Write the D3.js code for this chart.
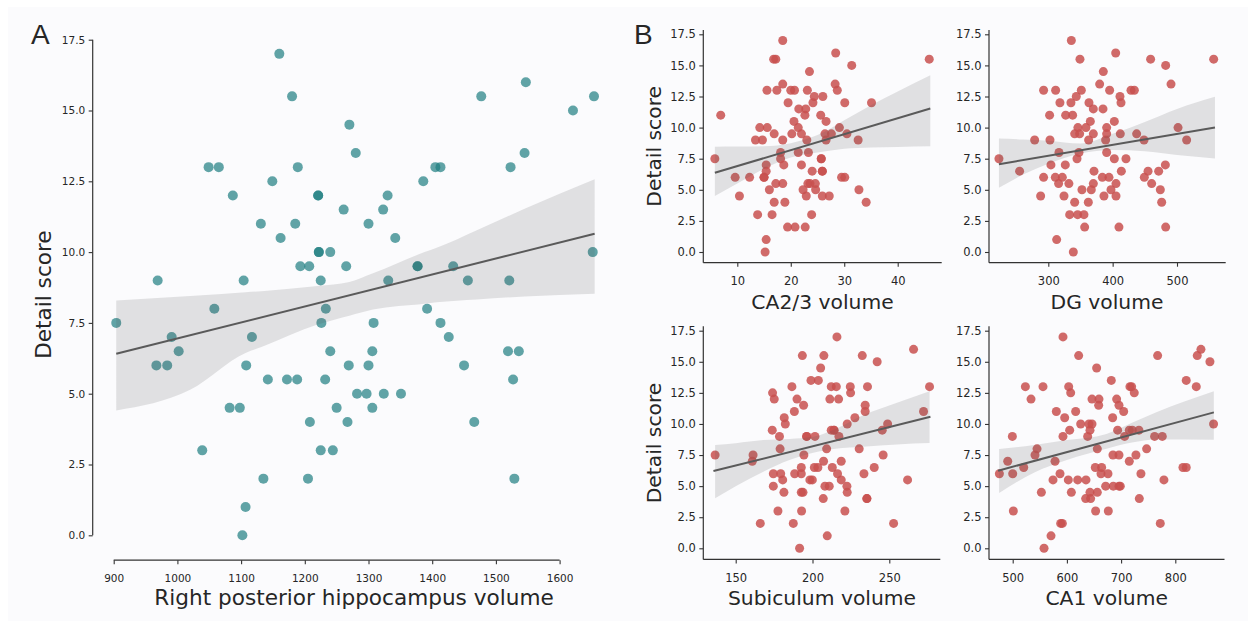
<!DOCTYPE html>
<html>
<head>
<meta charset="utf-8">
<script src="https://cdn.jsdelivr.net/npm/d3@7"></script>
<style>
  html, body { margin: 0; padding: 0; background: #ffffff; }
  svg { display: block; }
  text { font-family: "DejaVu Sans", sans-serif; fill: #262626; }
</style>
</head>
<body>
<svg id="chart" width="1248" height="621"></svg>
<script>
// ---------------- DATA ----------------
const yTicks = [0, 2.5, 5, 7.5, 10, 12.5, 15, 17.5];

// Panel A: right posterior hippocampus volume vs detail score
const hippoTicks = [900, 1000, 1100, 1200, 1300, 1400, 1500, 1600];
const hippoPoints = [
  [1160,17],[1180,15.5],[1547,16],[1477,15.5],[1654,15.5],[1621,15],[1270,14.5],[1280,13.5],[1545,13.5],
  [1049,13],[1065,13],[1189,13],[1405,13],[1413,13],[1523,13],[1149,12.5],[1386,12.5],[1087,12],[1221,12],
  [1221,12],[1330,12],[1261,11.5],[1323,11.5],[1131,11],[1185,11],[1300,11],[1162,10.5],[1342,10.5],[1222,10],
  [1222,10],[1240,10],[1652,10],[1193,9.5],[1207,9.5],[1265,9.5],[1377,9.5],[1377,9.5],[1433,9.5],[969,9],
  [1104,9],[1225,9],[1331,9],[1456,9],[1521,9],[1058,8],[1233,8],[1392,8],[904,7.5],[1226,7.5],[1308,7.5],
  [1413,7.5],[991,7],[1117,7],[1426,7],[1002,6.5],[1240,6.5],[1306,6.5],[1519,6.5],[1536,6.5],[967,6],[984,6],
  [1108,6],[1269,6],[1300,6],[1450,6],[1142,5.5],[1172,5.5],[1188,5.5],[1232,5.5],[1527,5.5],[1282,5],[1297,5],
  [1324,5],[1351,5],[1082,4.5],[1098,4.5],[1250,4.5],[1306,4.5],[1208,4],[1267,4],[1466,4],[1039,3],[1225,3],
  [1244,3],[1135,2],[1205,2],[1529,2],[1107,1],[1102,0]
];
const hippoFit = [[904, 6.41], [1655, 10.65]];
const hippoBand = [ // [x, lower, upper]
  [904,4.41,8.29],[1020,5.14,8.45],[1107,6.44,8.58],[1132,6.65,8.62],[1220,7.44,8.8],[1270,7.75,8.94],
  [1307,7.97,9.25],[1388,8.18,10.0],[1407,8.23,10.15],[1470,8.33,10.77],[1545,8.43,11.53],[1655,8.53,12.57]
];

// Panel B1: CA2/3
const ca23Ticks = [10, 20, 30, 40];
const ca23Points = [
  [18.5,17],[16.8,15.5],[17.2,15.5],[28.4,16],[31.4,15],[45.9,15.5],[23.5,14.5],[18.5,13.5],[28.3,13.5],
  [15.55,13],[17.4,13],[20.0,13],[20.7,13],[23.1,13],[28.7,13],[19.5,12],[24.4,12.5],[24.15,12],[26.0,12.5],
  [30.1,12],[35.1,12],[21.5,11.5],[22.8,11.5],[22.65,11],[25.6,11],[6.9,11],[20.6,10.5],[26.6,10.5],[14.2,10],
  [15.6,10],[21.4,10],[29.1,10],[13.4,9],[14.7,9],[18.5,9],[23.0,9],[26.6,9],[32.6,9],[16.9,9.5],[20.2,9.5],
  [22.0,9.5],[26.4,9.5],[27.6,9.5],[30.5,9.5],[5.8,7.5],[18.1,8],[21.4,8],[23.3,8],[18.1,7.5],[25.7,7.5],
  [25.7,7.5],[15.4,7],[18.7,7],[22.0,7],[15.4,6.5],[24.0,6.5],[25.9,6.5],[25.9,6.5],[9.6,6],[12.3,6],[15.0,6],
  [15.0,6],[29.5,6],[30.1,6],[17.2,5.5],[18.5,5.5],[23.2,5.5],[23.6,5.5],[24.6,5.5],[16.0,5],[22.3,5],[24.65,5],
  [32.75,5],[10.4,4.5],[22.9,4.5],[25.9,4.5],[27.2,4.5],[16.9,4],[18.9,4],[34.1,4],[13.8,3],[16.5,3],[23.9,3],
  [19.4,2],[20.8,2],[22.7,2],[15.4,1],[15.2,0]
];
const ca23Fit = [[5.8, 6.37], [46.1, 11.53]];
const ca23Band = [
  [5.8,4.5,8.46],[10,5.5,8.48],[15,6.7,8.5],[20,7.6,8.75],[25,8.0,9.4],[30,8.3,10.6],[35,8.4,11.8],
  [40,8.45,12.9],[46.1,8.5,14.2]
];

// Panel B2: DG
const dgTicks = [300, 400, 500];
const dgPoints = [
  [335.8,17],[404.7,16],[349.2,15.5],[459,15.5],[557,15.5],[482.4,15],[385.5,14.5],[379.8,13.5],[490.7,13.5],
  [292.7,13],[311.4,13],[351.3,13],[395.3,13],[428.5,13],[433.7,13],[343.5,12.5],[411.4,12.5],[318.1,12],
  [335.2,12],[363.2,12],[413,12],[370,11.5],[385,11.5],[302,11],[327,11],[337.8,11],[365.3,10.5],[402.6,10.5],
  [346,10],[358.5,10],[390.7,10],[501.6,10],[341,9.5],[348.7,9.5],[370,9.5],[390.7,9.5],[411.9,9.5],[437.3,9.5],
  [278.8,9],[302.6,9],[362.7,9],[389.1,9],[448.7,9],[515,9],[316.6,8],[347.7,8],[390.7,8],[223.3,7.5],
  [344.6,7.5],[402.6,7.5],[420.7,7.5],[304.1,7],[326.4,7],[481.9,7],[255.4,6.5],[371,6.5],[413.5,6.5],
  [455,6.5],[471.5,6.5],[292.7,6],[310.9,6],[321.8,6],[384,6],[394.3,6],[449.2,6],[316,5.5],[332,5.5],
  [370,5.5],[405.2,5.5],[460.6,5.5],[352.3,5],[366.8,5],[397.4,5],[474.1,5],[288.1,4.5],[324.4,4.5],
  [386.5,4.5],[405.2,4.5],[341,4],[362.2,4],[476.2,4],[333.2,3],[345.6,3],[355.4,3],[356.5,2],[409.8,2],
  [482.4,2],[313,1],[338.9,0]
];
const dgFit = [[223.3, 7.06], [559, 10.0]];
const dgBand = [
  [223.3,5.16,9.12],[260,6.2,9.05],[300,7.1,8.94],[350,7.92,8.72],[400,8.2,9.5],[450,8.1,10.46],
  [500,7.8,11.5],[559,7.52,12.47]
];

// Panel B3: Subiculum
const subTicks = [150, 200, 250];
const subPoints = [
  [215.9,17],[265.8,16],[193.4,15.5],[207.4,15.5],[232.4,15.5],[242.1,15],[205.3,14.5],[199,13.5],[203.8,13.5],
  [186.6,13],[212.2,13],[215.5,13],[224.6,13],[235.8,13],[276.2,13],[174,12.5],[224.8,12.5],[175.1,12],
  [189.9,12],[211.3,12],[217,12],[194.2,11.5],[234.3,11.5],[188.2,11],[234.3,11],[272.3,11],[181.6,10.5],
  [227.6,10.5],[182.3,10],[222.6,10],[248.9,10],[173.8,9.5],[212.2,9.5],[214,9.5],[214,9.5],[245.4,9.5],
  [178.5,9],[196.2,9],[196.2,9],[201.6,9],[217.2,9],[178.9,8],[209.2,8],[230.4,8],[136.6,7.5],[161.3,7.5],
  [194.4,7.5],[246,7.5],[160.8,7],[207.2,7],[218.7,7],[192.7,6.5],[201.2,6.5],[203.5,6.5],[212.9,6.5],
  [240.2,6.5],[174.5,6],[179.3,6],[188.4,6],[192.7,6],[216.3,6],[233.5,6],[180.6,5.5],[198.3,5.5],[199.9,5.5],
  [218.7,5.5],[261.9,5.5],[174.5,5],[208.1,5],[210.9,5],[222.4,5],[181.4,4.5],[192.7,4.5],[193.8,4.5],
  [222.6,4.5],[207,4],[235.4,4],[235.4,4],[177.5,3],[192.9,3],[221.1,3],[166,2],[187.5,2],[252.8,2],
  [209.6,1],[191.6,0]
];
const subFit = [[135.5, 6.21], [276.8, 10.58]];
const subBand = [
  [136.6,4.02,8.3],[150,5.0,8.45],[168,6.16,8.7],[185,7.1,8.8],[200.5,7.69,8.97],[215,8.0,9.6],
  [233,8.17,10.7],[255,8.35,11.7],[276.2,8.46,12.64]
];

// Panel B4: CA1
const ca1Ticks = [500, 600, 700, 800];
const ca1Points = [
  [592.8,17],[847.3,16],[621.7,15.5],[767.4,15.5],[840.5,15.5],[863.9,15],[654.9,14.5],[681.9,13.5],[820.2,13.5],
  [523.4,13],[555.9,13],[603.3,13],[716.3,13],[719.4,13],[838.7,13],[607,12.5],[724.3,12.5],[533.8,12],
  [646.3,12],[659.2,12],[691.8,12],[658.6,11.5],[696.1,11.5],[580.5,11],[616.2,11],[704.7,11],[595.9,10.5],
  [684.4,10.5],[625.4,10],[640.7,10],[646.3,10],[870.6,10],[605.1,9.5],[642.6,9.5],[693.6,9.5],[715.1,9.5],
  [720.7,9.5],[732.9,9.5],[499.4,9],[592.8,9],[638.3,9],[706.5,9],[761.8,9],[776,9],[544.9,8],[656.1,8],
  [747.1,8],[541.2,7.5],[685,7.5],[696.1,7.5],[727.4,7.5],[490.8,7],[578.1,7],[715.1,7],[520.3,6.5],
  [652.4,6.5],[664.1,6.5],[814.1,6.5],[820.2,6.5],[475.4,6],[500,6],[587.3,6],[662.9,6],[675.8,6],[736.6,6],
  [574.4,5.5],[602.6,5.5],[619.9,5.5],[635.2,5.5],[779,5.5],[671.5,5],[685.6,5],[696.1,5],[698.5,5],
  [552.9,4.5],[608.2,4.5],[642.6,4.5],[656.1,4.5],[634.6,4],[643.8,4],[733.6,4],[501.2,3],[653,3],[676.4,3],
  [588.5,2],[591.6,2],[772.3,2],[570.7,1],[557.8,0]
];
const ca1Fit = [[473, 6.24], [871.2, 10.93]];
const ca1Band = [
  [475,4.45,7.99],[540,6.1,8.3],[600,7.1,8.7],[673,8.0,9.2],[720,8.5,10.1],[765,8.75,10.95],[871,8.73,12.64]
];

// ---------------- DRAWING ----------------
const svg = d3.select("#chart");

// figure background
svg.append("rect").attr("x", 8).attr("y", 7).attr("width", 1240).attr("height", 614)
  .attr("fill", "#fbfbfd");

const TEAL = "#1e7d80", RED = "#c8504f";
const LINE = "#5a5a5a", AXIS = "#333333";

function panel(cfg) {
  const g = svg.append("g");
  const x = d3.scaleLinear().domain([cfg.xTicks[0], cfg.xTicks[cfg.xTicks.length - 1]]).range(cfg.xRange);
  const y = d3.scaleLinear().domain([0, 17.5]).range(cfg.yRange);

  // points
  g.append("g").selectAll("circle").data(cfg.points).join("circle")
    .attr("cx", d => x(d[0])).attr("cy", d => y(d[1])).attr("r", cfg.r)
    .attr("fill", cfg.color).attr("fill-opacity", cfg.opacity);

  // confidence band
  const area = d3.area().x(d => x(d[0])).y0(d => y(d[1])).y1(d => y(d[2])).curve(d3.curveMonotoneX);
  g.append("path").datum(cfg.band).attr("d", area).attr("fill", LINE).attr("fill-opacity", 0.16);

  // fit line
  const line = d3.line().x(d => x(d[0])).y(d => y(d[1]));
  g.append("path").datum(cfg.fit).attr("d", line).attr("fill", "none")
    .attr("stroke", LINE).attr("stroke-width", 2);

  // x axis
  const xAxis = d3.axisBottom(x).tickValues(cfg.xTicks).tickSize(4).tickPadding(6)
    .tickFormat(d3.format("d"));
  const gx = g.append("g").attr("transform", `translate(0,${cfg.xSpineY})`).call(xAxis);
  gx.select(".domain").remove();
  gx.append("line").attr("x1", cfg.xSpine[0]).attr("x2", cfg.xSpine[1])
    .attr("stroke", AXIS).attr("stroke-width", 1.2);
  gx.selectAll(".tick line").attr("stroke", AXIS).attr("stroke-width", 1.1);
  gx.selectAll(".tick text").attr("y", null).attr("dy", null)
    .attr("transform", `translate(0,${cfg.xTickBaseline - cfg.xSpineY})`)
    .style("font-family", "DejaVu Sans").style("font-size", cfg.tickSize + "px").attr("fill", "#262626");

  // y axis
  const yAxis = d3.axisLeft(y).tickValues(yTicks).tickSize(4).tickPadding(3.5)
    .tickFormat(d3.format(".1f"));
  const gy = g.append("g").attr("transform", `translate(${cfg.ySpineX},0)`).call(yAxis);
  gy.select(".domain").remove();
  gy.append("line").attr("y1", cfg.ySpine[0]).attr("y2", cfg.ySpine[1])
    .attr("stroke", AXIS).attr("stroke-width", 1.2);
  gy.selectAll(".tick line").attr("stroke", AXIS).attr("stroke-width", 1.1);
  gy.selectAll(".tick text").style("font-family", "DejaVu Sans")
    .style("font-size", cfg.tickSize + "px").attr("fill", "#262626");

  // axis labels
  g.append("text").attr("x", cfg.xLabelPos[0]).attr("y", cfg.xLabelPos[1])
    .attr("text-anchor", "middle").style("font-size", cfg.labelSize + "px").text(cfg.xLabel);
  if (cfg.yLabel) {
    g.append("text").attr("transform", `translate(${cfg.yLabelPos[0]},${cfg.yLabelPos[1]}) rotate(-90)`)
      .attr("text-anchor", "middle").style("font-size", cfg.labelSize + "px").text(cfg.yLabel);
  }
}

// Panel A
panel({
  points: hippoPoints, fit: hippoFit, band: hippoBand, xTicks: hippoTicks,
  xRange: [113.7, 559.6], yRange: [535.3, 39.7],
  xSpineY: 560.2, xSpine: [113.7, 559.6], ySpineX: 92.7, ySpine: [39.7, 535.3],
  xTickBaseline: 581.7, tickSize: 10.5, labelSize: 21.6,
  r: 5, color: TEAL, opacity: 0.7,
  xLabel: "Right posterior hippocampus volume", xLabelPos: [354, 605],
  yLabel: "Detail score", yLabelPos: [50.5, 294.6]
});

// Panel B – top left
panel({
  points: ca23Points, fit: ca23Fit, band: ca23Band, xTicks: ca23Ticks,
  xRange: [737.3, 897.7], yRange: [252.0, 34.3],
  xSpineY: 262.7, xSpine: [703.3, 941.7], ySpineX: 703.3, ySpine: [29.9, 262.7],
  xTickBaseline: 285.3, tickSize: 11.5, labelSize: 20.3,
  r: 4.5, color: RED, opacity: 0.85,
  xLabel: "CA2/3 volume", xLabelPos: [822.5, 309.3],
  yLabel: "Detail score", yLabelPos: [660.5, 146.3]
});

// Panel B – top right
panel({
  points: dgPoints, fit: dgFit, band: dgBand, xTicks: dgTicks,
  xRange: [1048.3, 1177.0], yRange: [252.0, 34.3],
  xSpineY: 262.7, xSpine: [989, 1225.7], ySpineX: 989, ySpine: [29.9, 262.7],
  xTickBaseline: 285.3, tickSize: 11.5, labelSize: 20.3,
  r: 4.5, color: RED, opacity: 0.85,
  xLabel: "DG volume", xLabelPos: [1107, 309.3]
});

// Panel B – bottom left
panel({
  points: subPoints, fit: subFit, band: subBand, xTicks: subTicks,
  xRange: [735.7, 889.3], yRange: [548.3, 330.7],
  xSpineY: 559.4, xSpine: [703.3, 940.3], ySpineX: 703.3, ySpine: [326.3, 559.4],
  xTickBaseline: 582.3, tickSize: 11.5, labelSize: 20.3,
  r: 4.5, color: RED, opacity: 0.85,
  xLabel: "Subiculum volume", xLabelPos: [822, 605],
  yLabel: "Detail score", yLabelPos: [660.5, 443]
});

// Panel B – bottom right
panel({
  points: ca1Points, fit: ca1Fit, band: ca1Band, xTicks: ca1Ticks,
  xRange: [1012.7, 1175.3], yRange: [548.3, 330.7],
  xSpineY: 559.4, xSpine: [989, 1224.5], ySpineX: 989, ySpine: [326.3, 559.4],
  xTickBaseline: 582.3, tickSize: 11.5, labelSize: 20.3,
  r: 4.5, color: RED, opacity: 0.85,
  xLabel: "CA1 volume", xLabelPos: [1106.7, 605]
});

// panel letters
svg.append("text").attr("x", 31).attr("y", 44).style("font-family", "Liberation Sans, Arial, sans-serif")
  .style("font-size", "28px").attr("fill", "#000").text("A");
svg.append("text").attr("x", 634).attr("y", 44).style("font-family", "Liberation Sans, Arial, sans-serif")
  .style("font-size", "28px").attr("fill", "#000").text("B");
</script>
</body>
</html>
